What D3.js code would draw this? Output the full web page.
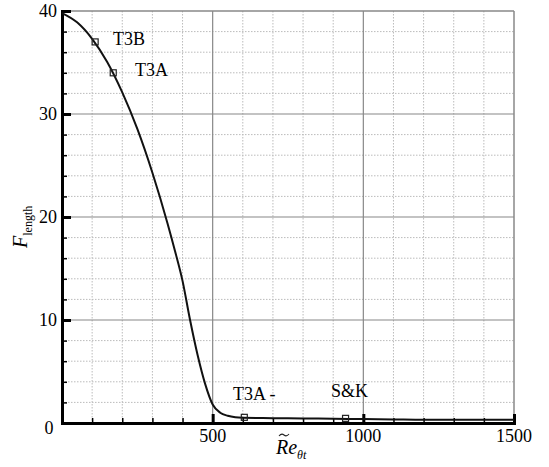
<!DOCTYPE html>
<html><head><meta charset="utf-8">
<script src="https://cdn.jsdelivr.net/npm/d3@7"></script>
<style>body{margin:0;background:#fff}</style>
</head><body>
<svg id="c" width="549" height="467"></svg>
<script>
// Curve: Re_theta_t vs F_length
const reValues = [0, 50, 100, 150, 200, 250, 300, 350, 375, 400, 425, 450, 475, 500, 525, 550, 575, 600, 700, 800, 900, 1000, 1100, 1200, 1300, 1400, 1500];
const fValues  = [39.8, 38.9, 37.3, 35.05, 32.1, 28.55, 24.3, 19.4, 16.7, 13.8, 10.0, 6.6, 3.8, 1.8, 1.0, 0.7, 0.55, 0.5, 0.47, 0.44, 0.41, 0.38, 0.35, 0.32, 0.32, 0.32, 0.32];
// Experimental markers
const markerNames = ["T3B", "T3A", "T3A -", "S&K"];
const markerRe = [110, 170, 605, 941];
const markerF = [37.0, 34.0, 0.55, 0.45];
const xTicks = [0, 500, 1000, 1500];
const yTicks = [0, 10, 20, 30, 40];

const FONT = "Liberation Serif";
const svg = d3.select("#c");
const L = 62, R = 514, T = 11, B = 423;
const x = d3.scaleLinear().domain([0, 1500]).range([L, R]);
const y = d3.scaleLinear().domain([0, 40]).range([B, T]);

// minor dotted grid
const g = svg.append("g");
g.selectAll(".vx").data(d3.range(100, 1500, 100).filter(v => v % 500 !== 0)).enter().append("line")
  .attr("x1", d => x(d)).attr("x2", d => x(d)).attr("y1", T).attr("y2", B)
  .attr("stroke", "#bbb").attr("stroke-width", 1).attr("stroke-dasharray", "1.5,1.5");
g.selectAll(".hy").data(d3.range(2, 40, 2).filter(v => v % 10 !== 0)).enter().append("line")
  .attr("y1", d => y(d)).attr("y2", d => y(d)).attr("x1", L).attr("x2", R)
  .attr("stroke", "#bbb").attr("stroke-width", 1).attr("stroke-dasharray", "1.5,1.5");
// major grid
g.selectAll(".mx").data([500, 1000]).enter().append("line")
  .attr("x1", d => x(d)).attr("x2", d => x(d)).attr("y1", T).attr("y2", B)
  .attr("stroke", "#888").attr("stroke-width", 1.2);
g.selectAll(".my").data([10, 20, 30]).enter().append("line")
  .attr("y1", d => y(d)).attr("y2", d => y(d)).attr("x1", L).attr("x2", R)
  .attr("stroke", "#888").attr("stroke-width", 1.2);

// frame top/right
svg.append("line").attr("x1", L).attr("x2", R).attr("y1", T).attr("y2", T).attr("stroke", "#888").attr("stroke-width", 1.5);
svg.append("line").attr("x1", R).attr("x2", R).attr("y1", T).attr("y2", B).attr("stroke", "#888").attr("stroke-width", 1.5);

// axes with inward ticks
const xAxis = d3.axisBottom(x).tickValues(d3.range(0, 1501, 100)).tickSize(-5).tickFormat("");
const yAxis = d3.axisLeft(y).tickValues(d3.range(0, 41, 2)).tickSize(-5).tickFormat("");
const xa = svg.append("g").attr("transform", `translate(0,${B})`).call(xAxis);
const ya = svg.append("g").attr("transform", `translate(${L},0)`).call(yAxis);
[xa, ya].forEach(a => {
  a.select(".domain").attr("stroke", "#000").attr("stroke-width", 3);
  a.selectAll(".tick line").attr("stroke", "#000").attr("stroke-width", 1.5);
});
xa.selectAll(".tick line").filter(d => d % 500 === 0).attr("y2", -9).attr("stroke-width", 3);
ya.selectAll(".tick line").filter(d => d % 10 === 0).attr("x2", 9).attr("stroke-width", 3);

// tick labels
svg.selectAll(".xl").data(xTicks).enter().append("text")
  .attr("x", d => d === 0 ? x(d) - 13 : x(d)).attr("y", d => d === 0 ? B + 11 : B + 19)
  .attr("text-anchor", "middle").attr("font-family", FONT).attr("font-size", 18).text(d => d);
svg.selectAll(".yl").data(yTicks.filter(d => d !== 0)).enter().append("text")
  .attr("x", L - 5).attr("y", d => y(d) + 6).attr("text-anchor", "end")
  .attr("font-family", FONT).attr("font-size", 18).text(d => d);

// curve
const line = d3.line().x((d, i) => x(reValues[i])).y(d => y(d)).curve(d3.curveMonotoneX);
svg.append("path").datum(fValues).attr("d", line).attr("fill", "none").attr("stroke", "#111").attr("stroke-width", 2);

// markers
svg.selectAll(".mk").data(markerRe).enter().append("rect")
  .attr("x", d => x(d) - 3).attr("y", (d, i) => y(markerF[i]) - 3).attr("width", 6).attr("height", 6)
  .attr("fill", "none").attr("stroke", "#222").attr("stroke-width", 1.2);
const labelPos = [[113, 45], [135, 76], [233, 400], [331, 397]];
svg.selectAll(".ml").data(markerNames).enter().append("text")
  .attr("x", (d, i) => labelPos[i][0]).attr("y", (d, i) => labelPos[i][1])
  .attr("font-family", FONT).attr("font-size", 18).text(d => d);

// axis titles
const xt = svg.append("text").attr("x", 276).attr("y", 454)
  .attr("font-family", FONT).attr("font-size", 20).attr("font-style", "italic");
xt.append("tspan").text("Re");
xt.append("tspan").attr("dy", 5).attr("font-size", 12).text("\u03b8t");
// tilde over R
svg.append("path").attr("d", "M279,436 q2.5,-3 5,-1 t5,-1")
  .attr("fill", "none").attr("stroke", "#222").attr("stroke-width", 1.1);
const yt = svg.append("text").attr("transform", "translate(27,248) rotate(-90)")
  .attr("font-family", FONT).attr("font-size", 20).attr("font-style", "italic");
yt.append("tspan").text("F");
yt.append("tspan").attr("dy", 5).attr("font-size", 12).attr("font-style", "normal").text("length");
</script>
</body></html>
